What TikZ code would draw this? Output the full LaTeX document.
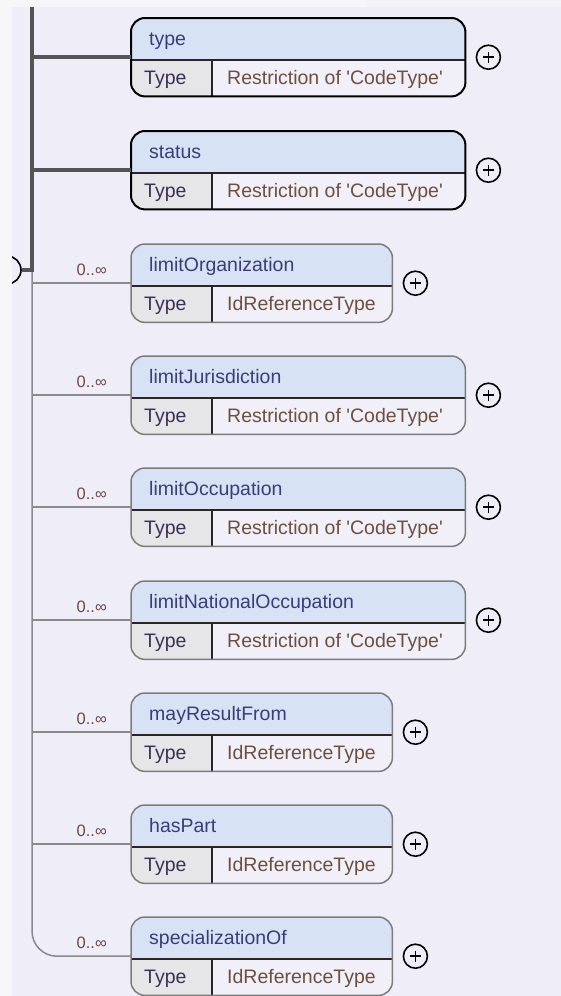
\documentclass[tikz,border=0pt]{standalone}
\usepackage{fontspec}
\setmainfont[Ligatures=TeXOff]{Liberation Sans}
\usetikzlibrary{calc}
\definecolor{stripbg}{HTML}{F7F7FA}
\definecolor{toplight}{HTML}{F3F2F9}
\definecolor{pagebg}{HTML}{EFEDF7}
\definecolor{hdrbg}{HTML}{D7E3F5}
\definecolor{typebg}{HTML}{E6E6E8}
\definecolor{valbg}{HTML}{F1EFF7}
\definecolor{hdrtxt}{HTML}{3C3C78}
\definecolor{typetxt}{HTML}{3A2F55}
\definecolor{valtxt}{HTML}{6B5040}
\definecolor{multtxt}{HTML}{6B4A45}
\definecolor{thickgray}{HTML}{555555}
\definecolor{thingray}{HTML}{8A8A8A}
\tikzset{
  elemshape/.style={rectangle, rounded corners=14pt, anchor=north west, minimum height=78pt, inner sep=0pt, fill=valbg},
  mand/.style={draw=black, line width=2pt},
  opt/.style={draw=thingray!90!black, line width=1.5pt},
  divline/.style={draw=black!85, line width=1.5pt},
  hdrtext/.style={anchor=base west, inner sep=0pt, text=hdrtxt, font=\fontsize{19.5}{21}\selectfont},
  typetext/.style={anchor=base west, inner sep=0pt, text=typetxt, font=\fontsize{19.5}{21}\selectfont},
  valtext/.style={anchor=base west, inner sep=0pt, text=valtxt, font=\fontsize{19.5}{21}\selectfont},
  multtext/.style={anchor=base east, inner sep=0pt, text=multtxt, font=\fontsize{16.5}{18}\selectfont},
  plusc/.style={circle, draw=black, line width=1.6pt, minimum size=24pt, inner sep=0pt},
  plusline/.style={draw=black, line width=1.6pt},
  thickline/.style={draw=thickgray, line width=3.5pt},
  thinline/.style={draw=thingray, line width=1.5pt}
}
% #1 name, #2 top y, #3 width, #4 label, #5 value, #6 border style
\newcommand\elembox[6]{%
  \node[elemshape, minimum width=#3pt] (#1) at (131,#2) {};
  \begin{scope}
    \clip[rounded corners=14pt] (#1.north west) rectangle (#1.south east);
    \fill[hdrbg] (#1.north west) rectangle ([yshift=-42pt]#1.north east);
    \fill[typebg] ([yshift=-42pt]#1.north west) rectangle (212,#2+78);
  \end{scope}
  \draw[divline] ([yshift=-42pt]#1.north west) -- ([yshift=-42pt]#1.north east);
  \draw[divline] (212,#2+42) -- (212,#2+78);
  \draw[#6, rounded corners=14pt] (#1.north west) rectangle (#1.south east);
  \node[hdrtext] (#1-l) at (149,#2+27) {#4};
  \node[typetext] (#1-t) at (144,#2+66.5) {Type};
  \node[valtext] (#1-v) at (227,#2+66.5) {#5};
  \node[plusc] (#1-p) at ([xshift=23pt]#1.east) {};
  \draw[plusline] ([xshift=-5.5pt]#1-p.center) -- ([xshift=5.5pt]#1-p.center);
  \draw[plusline] ([yshift=-5.5pt]#1-p.center) -- ([yshift=5.5pt]#1-p.center);
}
\newcommand\multlabel[1]{%
  \node[multtext] (#1-m) at ([xshift=-24pt,yshift=8pt]#1.west) {0..∞};
}
\begin{document}
\begin{tikzpicture}[x=1pt,y=-1pt]
\useasboundingbox (0,0) rectangle (561,996);
\fill[stripbg] (0,0) rectangle (561,996);
\fill[toplight] (366,0) rectangle (561,7);
\fill[pagebg] (12,7) rectangle (561,996);

% sequence compositor (mostly hidden at the left edge)
\begin{scope}
  \clip (12,7) rectangle (561,996);
  \node[circle, draw=black, line width=1.6pt, minimum size=28pt, inner sep=0pt] (seq) at (7,270) {};
\end{scope}
\coordinate (trunktop) at (32,7);
\coordinate (spine) at (32,270);

\elembox{type}{18}{334}{type}{Restriction of 'CodeType'}{mand}
\elembox{status}{131}{334}{status}{Restriction of 'CodeType'}{mand}
\elembox{limitOrganization}{244}{261}{limitOrganization}{IdReferenceType}{opt}
\elembox{limitJurisdiction}{356}{334}{limitJurisdiction}{Restriction of 'CodeType'}{opt}
\elembox{limitOccupation}{468}{334}{limitOccupation}{Restriction of 'CodeType'}{opt}
\elembox{limitNationalOccupation}{581}{334}{limitNationalOccupation}{Restriction of 'CodeType'}{opt}
\elembox{mayResultFrom}{693}{261}{mayResultFrom}{IdReferenceType}{opt}
\elembox{hasPart}{805}{261}{hasPart}{IdReferenceType}{opt}
\elembox{specializationOf}{917}{261}{specializationOf}{IdReferenceType}{opt}

% thin connectors
\draw[thinline, rounded corners=25pt] (spine) |- (specializationOf.west);
\foreach \n in {limitOrganization,limitJurisdiction,limitOccupation,limitNationalOccupation,mayResultFrom,hasPart}{
  \draw[thinline] (\n.west -| spine) -- (\n.west);
}

% thick connectors
\draw[thickline] (trunktop) |- (seq.east);
\draw[thickline] (type.west -| trunktop) -- (type.west);
\draw[thickline] (status.west -| trunktop) -- (status.west);

\foreach \n in {limitOrganization,limitJurisdiction,limitOccupation,limitNationalOccupation,mayResultFrom,hasPart,specializationOf}{
  \multlabel{\n}
}
\end{tikzpicture}
\end{document}
